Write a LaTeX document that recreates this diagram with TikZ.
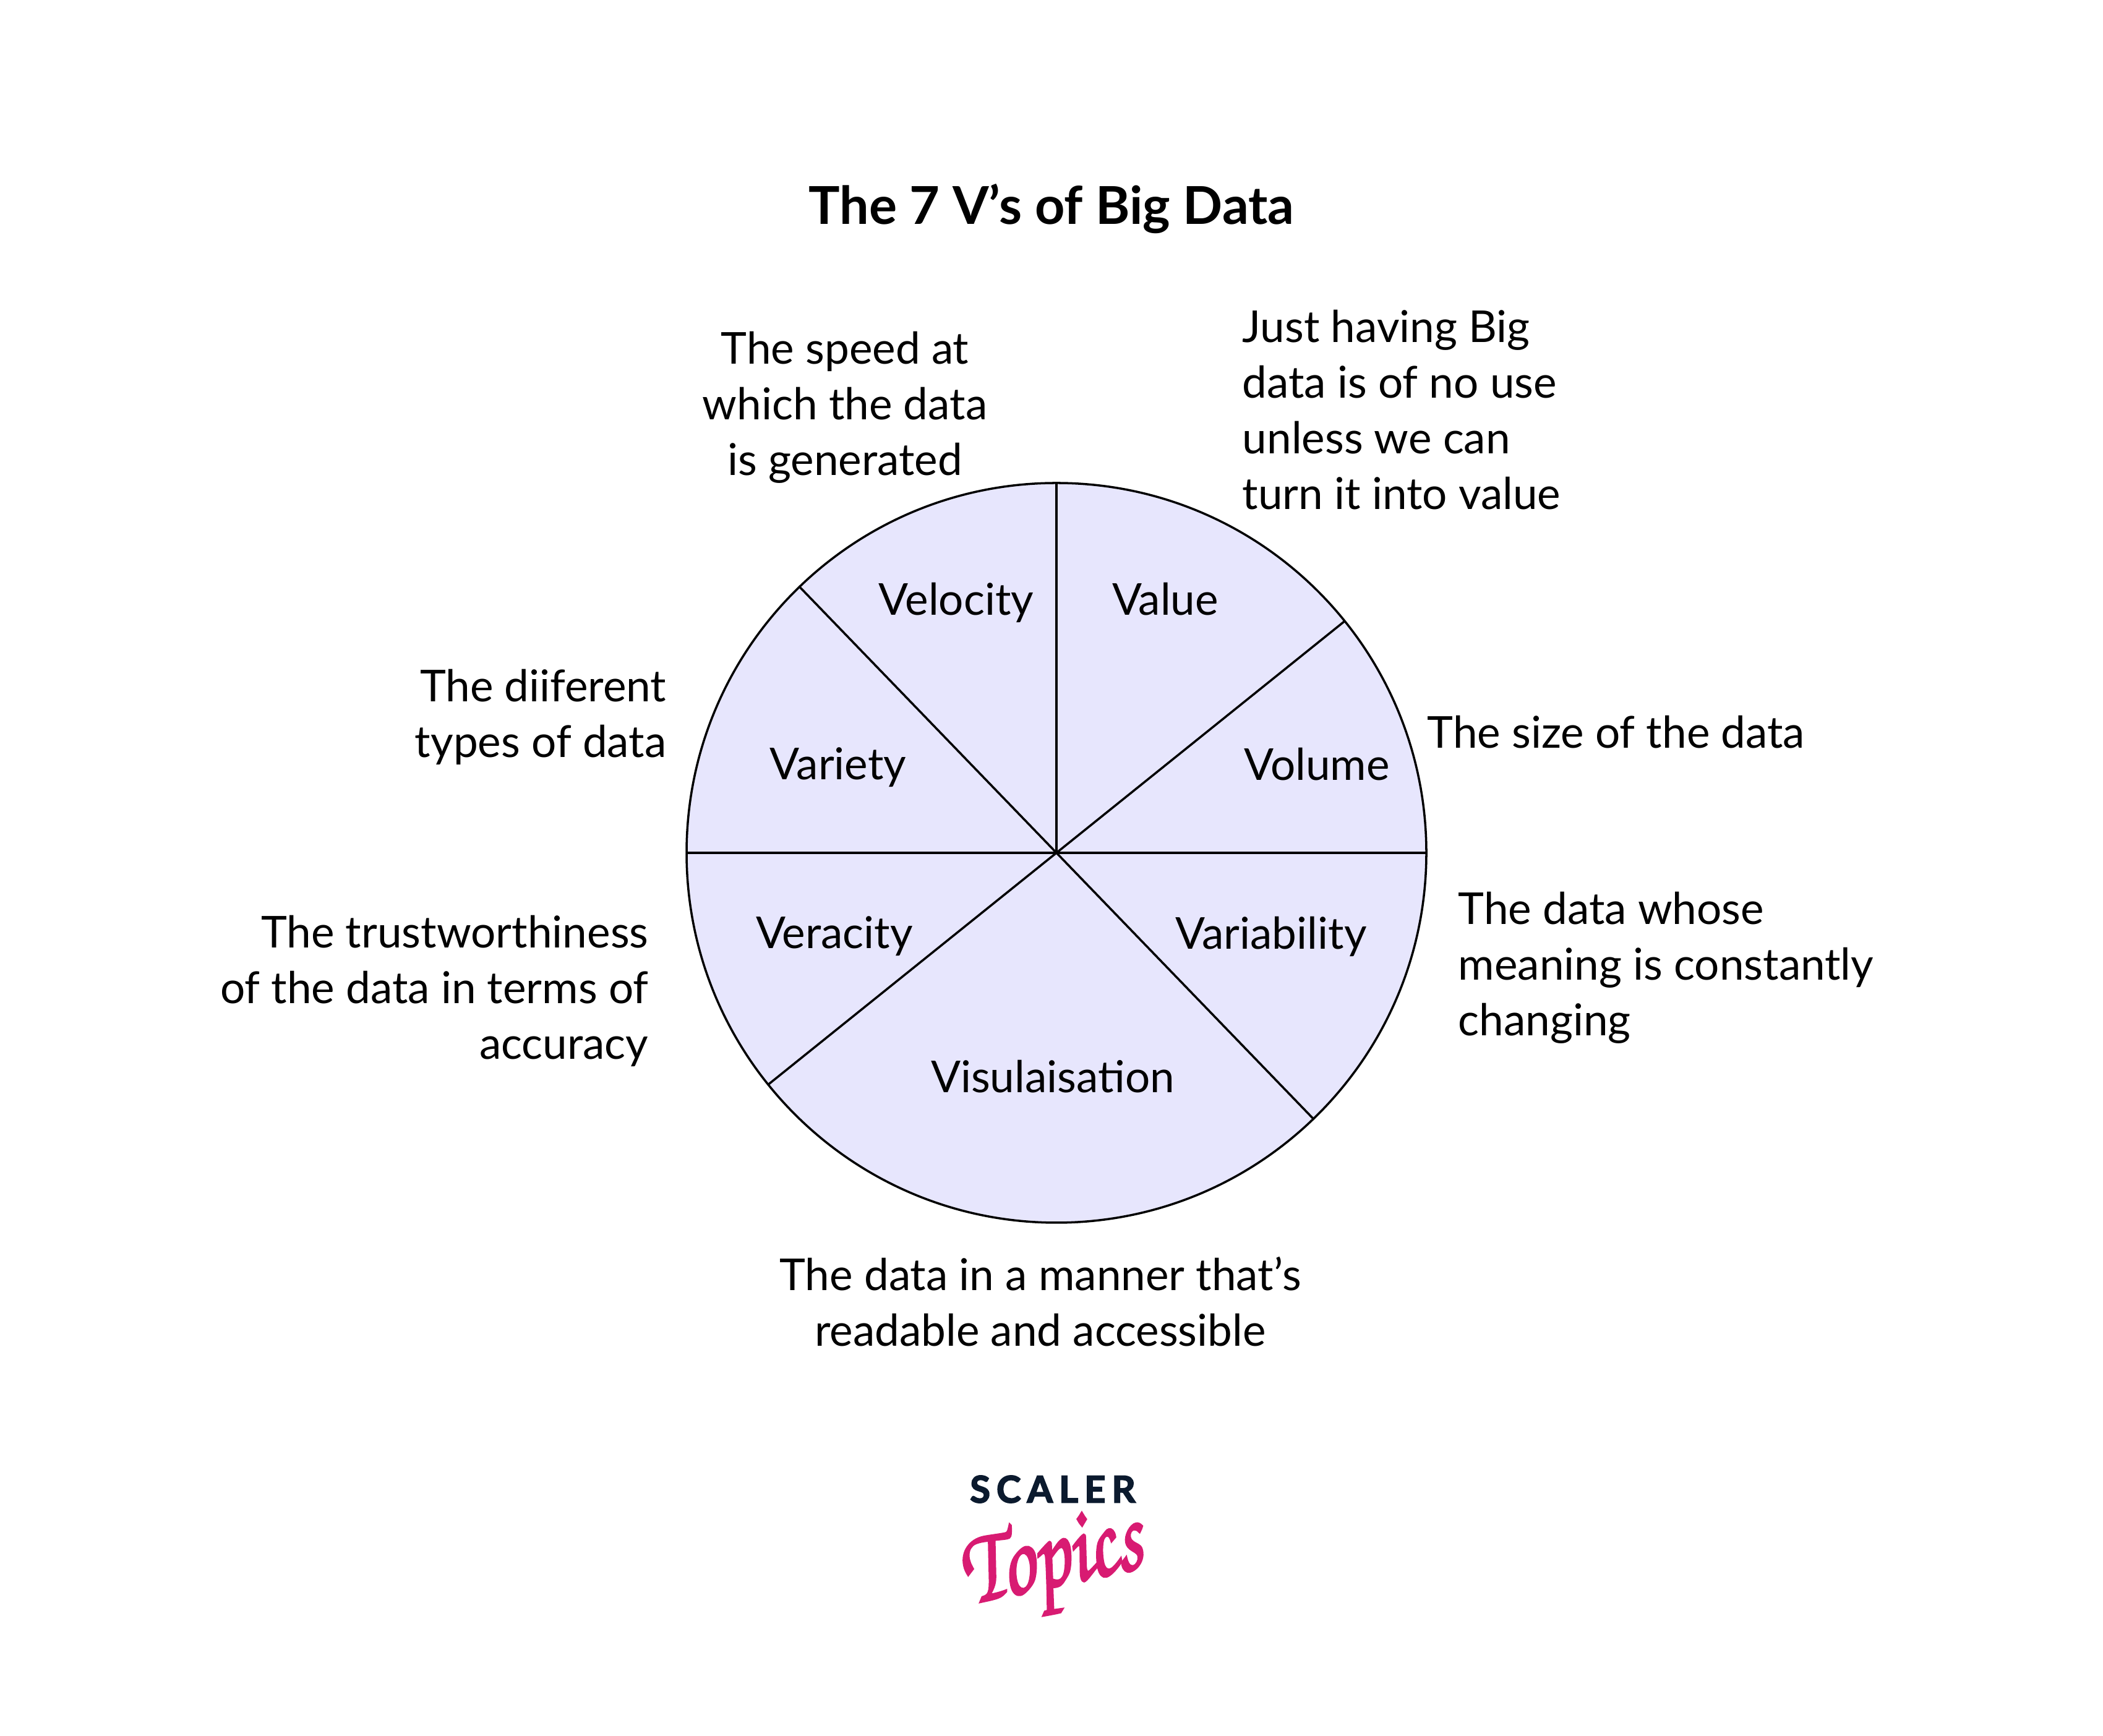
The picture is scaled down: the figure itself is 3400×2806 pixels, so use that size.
\documentclass[tikz,border=0pt]{standalone}
\usepackage[T1]{fontenc}
\usepackage{fontspec}
\setmainfont{Lato}
\usetikzlibrary{calc}
\definecolor{slice}{HTML}{E7E6FD}
\definecolor{navy}{HTML}{0B1A2E}
\definecolor{pink}{HTML}{D81B72}
\tikzset{
  slicelabel/.style={font=\fontsize{20.2}{25.6}\selectfont},
  note/.style={font=\fontsize{20.2}{25.6}\selectfont,inner sep=0pt},
  spoke/.style={line width=1pt}
}
% stroked text, for the heavier logo lettering
\newcommand{\heavytext}[2]{\special{pdf:code q 2 Tr #1 w}#2\special{pdf:code Q}}

\begin{document}
\begin{tikzpicture}[x=0.01cm,y=0.01cm]
\useasboundingbox (0,0) rectangle (3400,2806);

\node[font=\fontsize{24}{30}\selectfont\bfseries] (title) at (1700,2468) {The 7 V’s of Big Data};

\coordinate (o) at (1708,1427);
\fill[slice] (o) circle (598);
\draw[spoke] (o) circle (598);
\coordinate (top) at ($(o)+(90:598)$);
\coordinate (ne) at ($(o)+(38.8:598)$);
\coordinate (nw) at ($(o)+(134:598)$);
\coordinate (e) at ($(o)+(0:598)$);
\coordinate (w) at ($(o)+(180:598)$);
\coordinate (sw) at ($(o)+(218.8:598)$);
\coordinate (se) at ($(o)+(-46:598)$);

\draw[spoke] (o) -- (top);
\draw[spoke] (o) -- (ne);
\draw[spoke] (o) -- (nw);
\draw[spoke] (o) -- (e);
\draw[spoke] (o) -- (w);
\draw[spoke] (o) -- (sw);
\draw[spoke] (o) -- (se);

\node[slicelabel] (velocity) at (1546,1832) {Velocity};
\node[slicelabel] (value) at (1884,1837) {Value};
\node[slicelabel] (variety) at (1355,1565) {Variety};
\node[slicelabel] (volume) at (2129,1570) {Volume};
\node[slicelabel] (veracity) at (1349,1292) {Veracity};
\node[slicelabel] (variability) at (2055,1292) {Variability};
\node[slicelabel] (visual) at (1702,1065) {Visulaisation};

\node[note,align=center] (speed) at (1366,2147) {The speed at\\which the data\\is generated};
\node[note,align=left,anchor=west] (use) at (2008,2143) {Just having Big\\data is of no use\\unless we can\\turn it into value};
\node[note,align=right,anchor=east] (types) at (1078,1647) {The diiferent\\types of data};
\node[note,align=left,anchor=west] (size) at (2307,1622) {The size of the data};
\node[note,align=left,anchor=west] (whose) at (2357,1241) {The data whose\\meaning is constantly\\changing};
\node[note,align=right,anchor=east] (trust) at (1049,1204) {The trustworthiness\\of the data in terms of\\accuracy};
\node[note,align=center] (manner) at (1682,701) {The data in a manner that’s\\readable and accessible};

\node[font=\fontsize{17}{20}\selectfont\bfseries,text=navy] (scaler) at (1702,398) {\heavytext{0.5}{S\,C\,A\,L\,E\,R}};
\node[font=\fontsize{42}{42}\usefont{T1}{pzc}{mb}{it},text=pink,rotate=12,xscale=0.9,yscale=1.18] (topics) at (1702,272) {\heavytext{0.9}{Topics}};

\end{tikzpicture}
\end{document}
